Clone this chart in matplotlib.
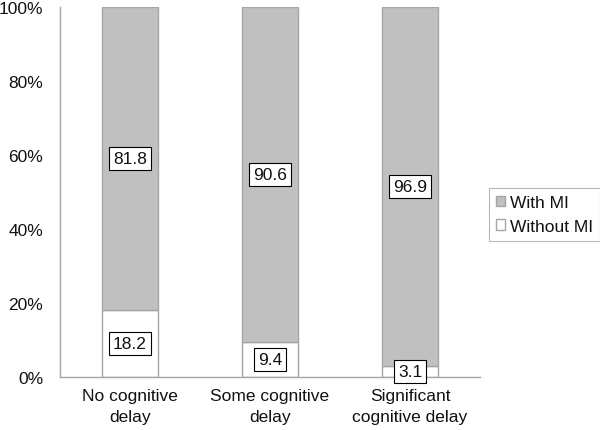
import matplotlib
matplotlib.use("Agg")
import matplotlib.pyplot as plt
import numpy as np

categories = ["No cognitive\ndelay", "Some cognitive\ndelay", "Significant\ncognitive delay"]
without_mi = [18.2, 9.4, 3.1]
with_mi = [81.8, 90.6, 96.9]
yticks = [0, 20, 40, 60, 80, 100]
ytick_labels = ["0%", "20%", "40%", "60%", "80%", "100%"]

plt.rcParams['font.family'] = ['Liberation Sans', 'DejaVu Sans']
fs = 12.5
fig = plt.figure(figsize=(6, 4.31), dpi=100)
ax = fig.add_axes([60/600, 1-378/431, 420/600, 370/431])

x = np.arange(len(categories))
w = 0.4
b1 = ax.bar(x, without_mi, w, color="white", edgecolor="#a6a6a6", linewidth=1, label="Without MI")
b2 = ax.bar(x, with_mi, w, bottom=without_mi, color="#c0c0c0", edgecolor="#a6a6a6", linewidth=1, label="With MI")

for xi, lo, hi in zip(x, without_mi, with_mi):
    for val, center in [(lo, lo/2), (hi, lo + hi/2)]:
        ax.text(xi, center, f"{val:.1f}", ha="center", va="center", fontsize=fs, color="#111111",
                bbox=dict(boxstyle="square,pad=0.24", facecolor="white", edgecolor="black", linewidth=0.8))

ax.set_xlim(-0.5, 2.5)
ax.set_ylim(0, 100)
ax.set_yticks(yticks)
ax.set_yticklabels(ytick_labels, fontsize=fs, color="#111111")
ax.set_xticks(x)
ax.set_xticklabels(categories, fontsize=fs, color="#111111", linespacing=1.5)
ax.tick_params(axis="both", length=0)
ax.tick_params(axis="y", pad=12)
ax.tick_params(axis="x", pad=8)
for s in ["top", "right"]:
    ax.spines[s].set_visible(False)
for s in ["left", "bottom"]:
    ax.spines[s].set_color("#a6a6a6")
    ax.spines[s].set_linewidth(1)

handles = [b2, b1]
leg = fig.legend(handles, ["With MI", "Without MI"], loc="upper left", bbox_to_anchor=(489/600, 1-189/431),
                 fontsize=fs, frameon=True, fancybox=False, edgecolor="#a6a6a6",
                 handlelength=0.55, handleheight=0.55, handletextpad=0.25, borderpad=0.4, labelspacing=0.5,
                 borderaxespad=0)
leg.get_frame().set_linewidth(0.8)
for t in leg.get_texts():
    t.set_color("#111111")

fig.savefig("out.png", dpi=100)
